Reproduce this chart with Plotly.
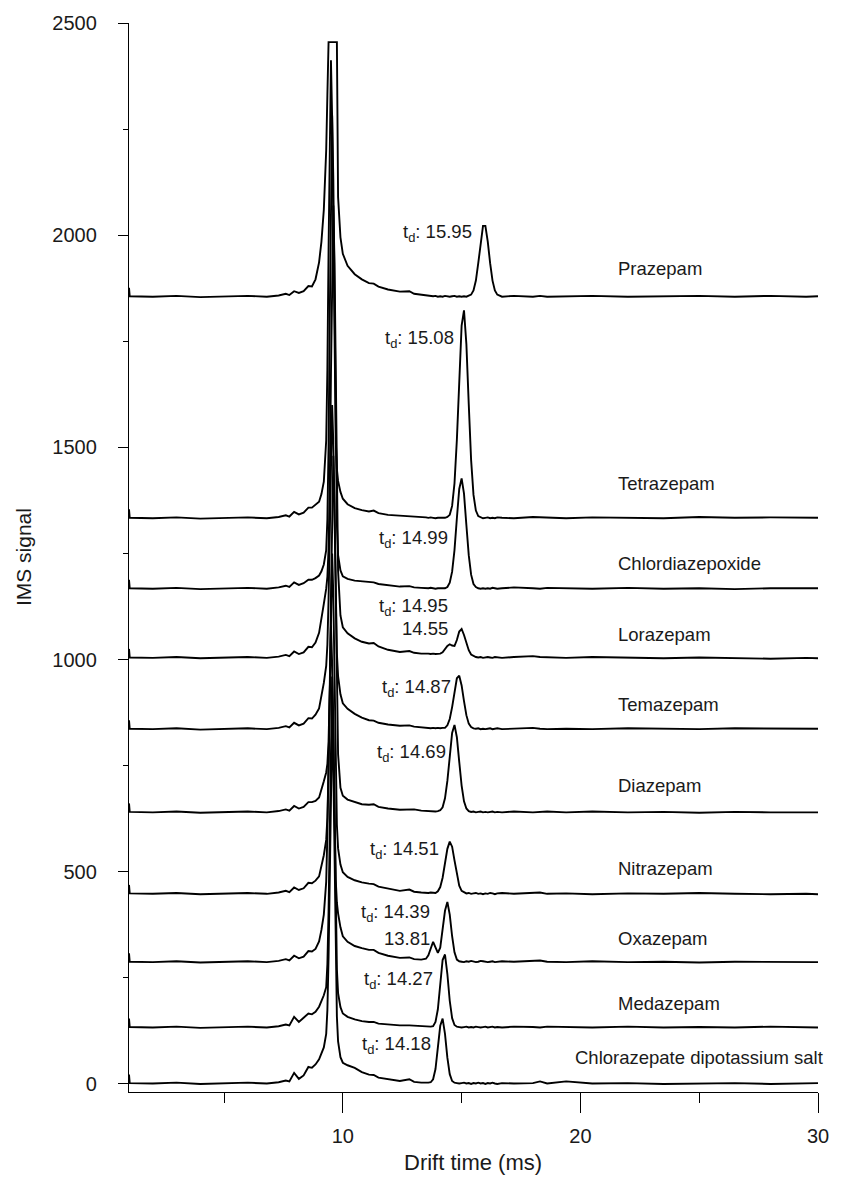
import plotly.graph_objects as go

# Shared drift-time grid (ms)
drift_time = [
    1.0, 1.03, 2.0, 3.0, 4.0, 5.0, 6.0, 6.8, 7.3, 7.6,
    7.75, 7.95, 8.15, 8.35, 8.55, 8.7, 8.85, 9.0, 9.1, 9.2,
    9.3, 9.35, 9.4, 9.45, 9.5, 9.55, 9.6, 9.65, 9.7, 9.75,
    9.8, 9.9, 10.0, 10.2, 10.5, 10.8, 11.1, 11.3, 11.5, 11.9,
    12.4, 12.8, 13.0, 13.3, 13.5, 13.6, 13.7, 13.8, 13.9, 14.0,
    14.1, 14.2, 14.3, 14.4, 14.5, 14.6, 14.7, 14.8, 14.9, 15.0,
    15.1, 15.2, 15.3, 15.4, 15.5, 15.6, 15.7, 15.8, 15.9, 16.0,
    16.1, 16.2, 16.3, 16.4, 16.5, 16.7, 17.2, 18.0, 18.3, 18.6,
    19.4, 20.5, 22.0, 23.5, 25.0, 26.5, 28.0, 29.5, 30.0]

prazepam = [
    1876, 1856, 1855, 1857, 1854, 1856, 1857, 1855, 1858, 1862,
    1859, 1868, 1864, 1868, 1880, 1879, 1896, 1936, 1985, 2060,
    2200, 2330, 2455, 2455, 2455, 2455, 2455, 2455, 2455, 2455,
    2090, 1995, 1956, 1928, 1908, 1896, 1887, 1886, 1879, 1872,
    1867, 1868, 1862, 1860, 1858, 1857, 1858, 1856, 1857, 1855,
    1856, 1855, 1857, 1856, 1855, 1856, 1857, 1855, 1856, 1855,
    1856, 1855, 1857, 1860, 1870, 1893, 1934, 1985, 2022, 2022,
    1985, 1934, 1893, 1870, 1860, 1855, 1857, 1855, 1857, 1855,
    1856, 1857, 1855, 1856, 1857, 1855, 1857, 1855, 1856]

tetrazepam = [
    1354, 1334, 1333, 1335, 1332, 1334, 1335, 1333, 1336, 1340,
    1337, 1348, 1342, 1346, 1358, 1358, 1364, 1372, 1390, 1419,
    1516, 1682, 1966, 2274, 2412, 2276, 1971, 1687, 1521, 1449,
    1421, 1395, 1379, 1366, 1357, 1352, 1349, 1351, 1345, 1341,
    1339, 1339, 1337, 1336, 1335, 1334, 1335, 1334, 1333, 1334,
    1334, 1333, 1334, 1336, 1341, 1362, 1415, 1518, 1662, 1787,
    1823, 1744, 1602, 1470, 1388, 1351, 1338, 1335, 1333, 1334,
    1335, 1333, 1334, 1333, 1335, 1334, 1333, 1336, 1335, 1334,
    1333, 1335, 1334, 1333, 1336, 1334, 1335, 1333, 1334]

chlordiazepoxide = [
    1188, 1168, 1167, 1169, 1166, 1168, 1169, 1167, 1170, 1174,
    1171, 1182, 1176, 1180, 1188, 1188, 1192, 1198, 1208, 1224,
    1258, 1330, 1503, 1806, 2135, 2282, 2133, 1802, 1496, 1319,
    1246, 1210, 1196, 1190, 1186, 1184, 1183, 1182, 1178, 1175,
    1172, 1173, 1170, 1169, 1168, 1168, 1169, 1168, 1167, 1168,
    1168, 1167, 1168, 1171, 1181, 1207, 1258, 1333, 1402, 1427,
    1391, 1317, 1246, 1200, 1178, 1171, 1168, 1167, 1168, 1167,
    1168, 1167, 1169, 1168, 1167, 1168, 1170, 1168, 1167, 1169,
    1168, 1167, 1169, 1167, 1168, 1166, 1168, 1167, 1168]

lorazepam = [
    1025, 1005, 1004, 1006, 1003, 1005, 1006, 1004, 1007, 1011,
    1008, 1019, 1013, 1017, 1030, 1029, 1040, 1063, 1094, 1131,
    1167, 1195, 1261, 1412, 1671, 1949, 2070, 1935, 1643, 1370,
    1209, 1104, 1076, 1062, 1050, 1042, 1038, 1039, 1031, 1023,
    1018, 1020, 1016, 1014, 1015, 1014, 1013, 1014, 1013, 1014,
    1014, 1017, 1024, 1032, 1036, 1033, 1032, 1046, 1066, 1072,
    1058, 1038, 1022, 1012, 1008, 1006, 1005, 1006, 1004, 1005,
    1006, 1005, 1004, 1006, 1005, 1004, 1006, 1008, 1006, 1005,
    1004, 1006, 1005, 1003, 1005, 1004, 1002, 1004, 1003]

temazepam = [
    857, 837, 836, 838, 835, 837, 838, 836, 839, 843,
    840, 851, 845, 849, 862, 861, 870, 885, 912, 945,
    985, 1035, 1142, 1322, 1514, 1600, 1511, 1313, 1127, 1014,
    961, 918, 897, 884, 872, 863, 857, 856, 851, 847,
    844, 845, 842, 840, 839, 839, 838, 839, 838, 839,
    838, 839, 839, 845, 860, 888, 925, 956, 962, 939,
    902, 869, 849, 841, 838, 837, 838, 836, 837, 836,
    837, 838, 836, 837, 838, 836, 837, 839, 837, 836,
    837, 836, 838, 837, 836, 838, 837, 836, 837]

diazepam = [
    661, 641, 640, 642, 639, 641, 642, 640, 643, 647,
    644, 655, 649, 653, 664, 664, 667, 675, 692, 713,
    734, 754, 807, 931, 1146, 1377, 1480, 1369, 1130, 907,
    777, 698, 679, 670, 664, 659, 658, 659, 653, 649,
    646, 646, 647, 644, 643, 643, 642, 643, 642, 643,
    645, 652, 673, 714, 773, 827, 846, 817, 759, 703,
    666, 649, 643, 641, 642, 640, 641, 642, 640, 641,
    640, 641, 642, 640, 641, 640, 642, 640, 641, 642,
    640, 642, 640, 641, 639, 641, 640, 641, 640]

nitrazepam = [
    469, 449, 448, 450, 447, 449, 450, 448, 451, 455,
    452, 463, 457, 461, 474, 473, 479, 489, 511, 539,
    575, 627, 744, 942, 1155, 1250, 1152, 935, 732, 610,
    555, 517, 499, 488, 480, 475, 472, 471, 465, 460,
    455, 458, 453, 451, 450, 450, 451, 450, 450, 454,
    464, 486, 519, 554, 571, 559, 527, 492, 467, 455,
    451, 449, 450, 448, 449, 450, 448, 449, 447, 449,
    448, 450, 449, 447, 449, 450, 448, 449, 451, 448,
    449, 447, 449, 448, 450, 448, 447, 448, 447]

oxazepam = [
    308, 288, 287, 289, 286, 288, 289, 287, 290, 294,
    291, 302, 296, 300, 313, 312, 318, 336, 363, 399,
    476, 591, 783, 987, 1080, 990, 789, 597, 482, 427,
    402, 369, 348, 335, 325, 320, 316, 316, 309, 302,
    297, 298, 294, 293, 295, 303, 322, 335, 322, 309,
    321, 360, 408, 429, 399, 348, 310, 293, 289, 288,
    287, 289, 288, 290, 289, 287, 288, 290, 289, 288,
    287, 288, 289, 287, 288, 289, 288, 290, 291, 288,
    287, 289, 287, 288, 286, 288, 287, 286, 287]

medazepam = [
    154, 134, 133, 135, 132, 134, 135, 133, 136, 140,
    138, 158, 146, 156, 166, 164, 170, 182, 194, 209,
    228, 282, 407, 623, 856, 960, 855, 617, 398, 270,
    214, 181, 166, 158, 152, 148, 146, 146, 142, 140,
    138, 138, 137, 136, 135, 135, 135, 136, 146, 176,
    233, 292, 305, 259, 196, 155, 139, 135, 134, 133,
    134, 135, 133, 134, 133, 135, 134, 133, 134, 135,
    133, 134, 135, 133, 134, 133, 135, 134, 133, 135,
    134, 133, 135, 133, 134, 133, 135, 134, 133]

chlorazepate = [
    22, 2, 1, 3, 0, 2, 3, 1, 4, 8,
    6, 26, 12, 20, 40, 38, 46, 58, 70, 86,
    118, 174, 299, 515, 746, 850, 744, 508, 288, 159,
    100, 63, 50, 44, 38, 28, 22, 21, 15, 11,
    7, 11, 5, 3, 2, 3, 4, 11, 35, 83,
    137, 154, 118, 62, 23, 7, 3, 2, 1, 2,
    3, 1, 2, 0, 2, 1, 3, 1, 2, 0,
    2, 1, 3, 1, 0, 2, 1, 2, 6, 1,
    6, 1, 2, 0, 1, 2, 0, 1, 2]

series = [prazepam, tetrazepam, chlordiazepoxide, lorazepam, temazepam,
          diazepam, nitrazepam, oxazepam, medazepam, chlorazepate]

# Compound name labels
names = ["Prazepam", "Tetrazepam", "Chlordiazepoxide", "Lorazepam", "Temazepam",
         "Diazepam", "Nitrazepam", "Oxazepam", "Medazepam",
         "Chlorazepate dipotassium salt"]
name_x = [21.5, 21.5, 21.5, 21.5, 21.5, 21.5, 21.5, 21.5, 21.5, 19.7]
name_y = [1922, 1415, 1227, 1058, 893, 704, 508, 343, 190, 63]

# Drift-time labels (right edge x, y)
td_text = ["t<sub>d</sub>: 15.95", "t<sub>d</sub>: 15.08", "t<sub>d</sub>: 14.99",
           "t<sub>d</sub>: 14.95", "14.55", "t<sub>d</sub>: 14.87", "t<sub>d</sub>: 14.69",
           "t<sub>d</sub>: 14.51", "t<sub>d</sub>: 14.39", "13.81",
           "t<sub>d</sub>: 14.27", "t<sub>d</sub>: 14.18"]
td_x = [15.54, 14.78, 14.50, 14.50, 14.52, 14.62, 14.42, 14.15, 13.74, 13.74, 13.88, 13.79]
td_y = [2004, 1756, 1285, 1124, 1073, 932, 779, 551, 402, 343, 245, 91]

FONT = "Liberation Sans, Arial, Helvetica, sans-serif"

fig = go.Figure()
for s in series:
    fig.add_trace(go.Scatter(x=drift_time, y=s, mode="lines",
                             line=dict(color="black", width=1.9),
                             showlegend=False, hoverinfo="skip"))

annotations = []
for n, x, y in zip(names, name_x, name_y):
    annotations.append(dict(x=x, y=y, xref="x", yref="y", text=n, showarrow=False,
                            xanchor="left", yanchor="middle",
                            font=dict(family=FONT, size=18.5, color="#1a1a1a")))
for t, x, y in zip(td_text, td_x, td_y):
    annotations.append(dict(x=x, y=y, xref="x", yref="y", text=t, showarrow=False,
                            xanchor="right", yanchor="middle",
                            font=dict(family=FONT, size=18.5, color="#1a1a1a")))
annotations.append(dict(x=0.4993, y=-0.0664, xref="paper", yref="paper",
                        text="Drift time (ms)", showarrow=False,
                        xanchor="center", yanchor="middle",
                        font=dict(family=FONT, size=22, color="#1a1a1a")))
annotations.append(dict(x=-0.153, y=0.5, xref="paper", yref="paper",
                        text="IMS signal", showarrow=False, textangle=-90,
                        xanchor="center", yanchor="middle",
                        font=dict(family=FONT, size=21, color="#1a1a1a")))

fig.update_layout(
    width=841, height=1178,
    margin=dict(l=129, r=13, t=23, b=86),
    paper_bgcolor="white", plot_bgcolor="white",
    annotations=annotations,
    font=dict(family=FONT, color="#1a1a1a"),
)
fig.update_xaxes(range=[1, 30], showline=True, linecolor="black", linewidth=1.3,
                 showgrid=False, zeroline=False, ticks="outside", ticklen=20,
                 tickwidth=1.3, tickcolor="black", tickvals=[10, 20, 30],
                 tickfont=dict(family=FONT, size=20, color="#1a1a1a"),
                 ticklabelstandoff=6,
                 minor=dict(tickvals=[5, 15, 25], ticks="outside", ticklen=10,
                            tickwidth=1.3, tickcolor="black"))
fig.update_yaxes(range=[-19, 2500], showline=True, linecolor="black", linewidth=1.3,
                 showgrid=False, zeroline=False, ticks="outside", ticklen=10,
                 tickwidth=1.3, tickcolor="black",
                 tickvals=[0, 500, 1000, 1500, 2000, 2500],
                 tickfont=dict(family=FONT, size=20, color="#1a1a1a"),
                 ticklabelstandoff=17,
                 minor=dict(tickvals=[250, 750, 1250, 1750, 2250], ticks="outside",
                            ticklen=5, tickwidth=1.3, tickcolor="black"))

fig.write_html("out.html")
